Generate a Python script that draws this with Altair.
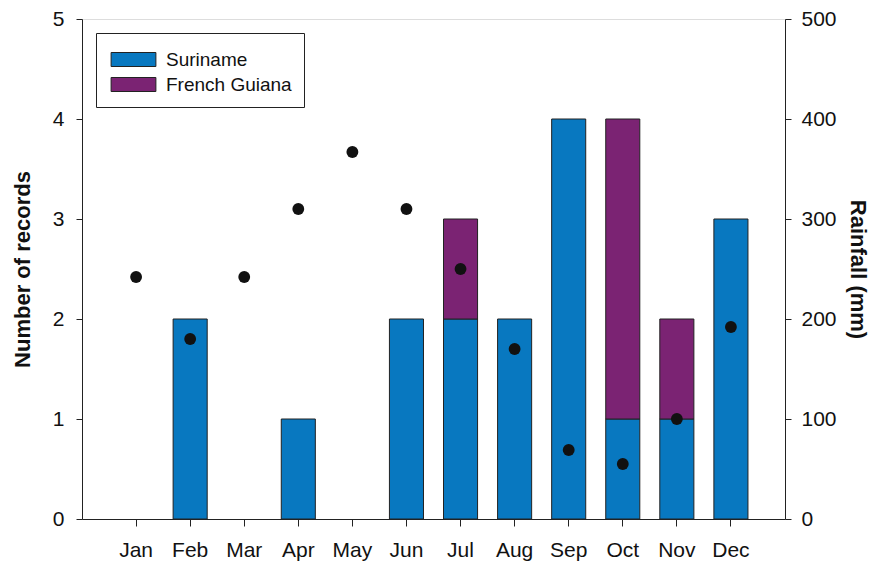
import altair as alt
import pandas as pd

months = ["Jan", "Feb", "Mar", "Apr", "May", "Jun", "Jul", "Aug", "Sep", "Oct", "Nov", "Dec"]
suriname = [0, 2, 0, 1, 0, 2, 2, 2, 4, 1, 1, 3]
french_guiana = [0, 0, 0, 0, 0, 0, 1, 0, 0, 3, 1, 0]
rainfall = [242, 180, 242, 310, 367, 310, 250, 170, 69, 55, 100, 192]
countries = ["Suriname", "French Guiana"]
colors = ["#0878C0", "#7B2373"]

rows = []
for i, m in enumerate(months):
    rows.append({"month": m, "country": countries[0], "records": suriname[i], "ord": 0})
    rows.append({"month": m, "country": countries[1], "records": french_guiana[i], "ord": 1})
bars_df = pd.DataFrame(rows)
rain_df = pd.DataFrame({"month": months, "rainfall": rainfall})

FONT = "Liberation Sans"

x_enc = alt.X(
    "month:N",
    sort=months,
    scale=alt.Scale(paddingInner=0.37, paddingOuter=0.685),
    axis=alt.Axis(
        title=None, labelAngle=0, labelFontSize=21, labelPadding=13,
        tickSize=7, tickColor="#222", domainColor="#222", labelColor="#111",
        labelFont=FONT,
    ),
)

bars = alt.Chart(bars_df).transform_filter("datum.records > 0").mark_bar(
    stroke="#222", strokeWidth=1
).encode(
    x=x_enc,
    y=alt.Y(
        "records:Q",
        stack="zero",
        scale=alt.Scale(domain=[0, 5]),
        axis=alt.Axis(
            title="Number of records", values=[0, 1, 2, 3, 4, 5], orient="left",
            labelFontSize=21, titleFontSize=22, titleFontWeight="bold",
            tickSize=6, labelPadding=12, titlePadding=18, grid=False,
            domainColor="#222", tickColor="#222", labelColor="#111", titleColor="#111",
            labelFont=FONT, titleFont=FONT,
        ),
    ),
    color=alt.Color(
        "country:N",
        scale=alt.Scale(domain=countries, range=colors),
        legend=alt.Legend(
            title=None, orient="none", legendX=14, legendY=14,
            strokeColor="#222", fillColor="white", padding=12,
            symbolType="M-1.6,-0.5H1.6V0.5H-1.6Z", symbolSize=784,
            symbolStrokeColor="#222", symbolStrokeWidth=1, symbolOffset=11,
            labelFontSize=19, labelFont=FONT, labelColor="#111",
            labelOffset=18, rowPadding=0,
        ),
    ),
    order=alt.Order("ord:Q"),
)

points = alt.Chart(rain_df).mark_point(
    filled=True, color="#111", size=140, opacity=1
).encode(
    x=x_enc,
    y=alt.Y(
        "rainfall:Q",
        scale=alt.Scale(domain=[0, 500]),
        axis=alt.Axis(
            title="Rainfall (mm)", orient="right", values=[0, 100, 200, 300, 400, 500],
            labelFontSize=21, titleFontSize=22, titleFontWeight="bold",
            tickSize=6, labelPadding=10, titlePadding=9, grid=False,
            domainColor="#222", tickColor="#222", labelColor="#111", titleColor="#111",
            labelFont=FONT, titleFont=FONT,
        ),
    ),
)

chart = alt.layer(bars, points).resolve_scale(y="independent").properties(
    width=703, height=500,
    autosize=alt.AutoSizeParams(type="none"),
    padding={"left": 74, "top": 11, "right": 85, "bottom": 49},
).configure_view(stroke="#222", strokeWidth=1).configure(background="white")

chart.save("out.html", embed_options={"renderer": "svg", "actions": False})
